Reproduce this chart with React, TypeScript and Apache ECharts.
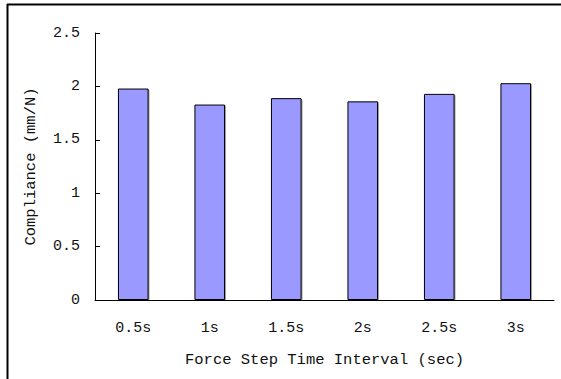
import React, { useEffect, useRef } from "react";
import * as echarts from "echarts";

const categories = ["0.5s", "1s", "1.5s", "2s", "2.5s", "3s"];
const compliance = [1.98, 1.83, 1.89, 1.86, 1.93, 2.03];
const yTicks = { min: 0, max: 2.5, interval: 0.5 };
const xName = "Force Step Time Interval (sec)";
const yName = "Compliance (mm/N)";

const FONT = "'Liberation Mono', 'DejaVu Sans Mono', monospace";

export default function App() {
  const ref = useRef<HTMLDivElement>(null);
  useEffect(() => {
    if (!ref.current) return;
    const chart = echarts.init(ref.current, null, { renderer: "svg" });
    chart.setOption({
      animation: false,
      backgroundColor: "#fff",
      textStyle: { fontFamily: FONT, color: "#000" },
      grid: { left: 95, right: 7, top: 33, bottom: 79, containLabel: false },
      graphic: [
        { type: "line", shape: { x1: 7, y1: 4.5, x2: 561, y2: 4.5 }, style: { stroke: "#000", lineWidth: 2 } },
        { type: "line", shape: { x1: 7.5, y1: 4, x2: 7.5, y2: 379 }, style: { stroke: "#000", lineWidth: 2 } },
      ],
      xAxis: {
        type: "category",
        data: categories,
        name: xName,
        nameLocation: "middle",
        nameGap: 52,
        nameTextStyle: { fontFamily: FONT, fontSize: 15.5, color: "#111" },
        axisLine: { lineStyle: { color: "#000", width: 1 } },
        axisTick: { inside: true, length: 5, lineStyle: { color: "#000" }, alignWithLabel: false },
        axisLabel: { margin: 21, fontFamily: FONT, fontSize: 15, color: "#111" },
        splitLine: { show: false },
      },
      yAxis: {
        type: "value",
        min: yTicks.min,
        max: yTicks.max,
        interval: yTicks.interval,
        name: yName,
        nameLocation: "middle",
        nameGap: 56,
        nameRotate: 90,
        nameTextStyle: { fontFamily: FONT, fontSize: 15.5, color: "#111" },
        axisLine: { show: true, lineStyle: { color: "#000", width: 1 } },
        axisTick: { show: true, inside: true, length: 5, lineStyle: { color: "#000" } },
        axisLabel: {
          margin: 15,
          fontFamily: FONT,
          fontSize: 15,
          color: "#111",
          formatter: (v: number) => String(v),
        },
        splitLine: { show: false },
      },
      series: [
        {
          type: "bar",
          data: compliance,
          barWidth: "40%",
          itemStyle: {
            color: "#9999FF",
            borderColor: "#000",
            borderWidth: 1,
            shadowColor: "rgba(0,0,0,0.35)",
            shadowOffsetX: 1,
            shadowOffsetY: 1,
            shadowBlur: 1,
          },
        },
      ],
    });
    return () => chart.dispose();
  }, []);
  return (
    <div
      ref={ref}
      style={{ position: "absolute", left: 0, top: 0, width: 561, height: 379 }}
    />
  );
}
